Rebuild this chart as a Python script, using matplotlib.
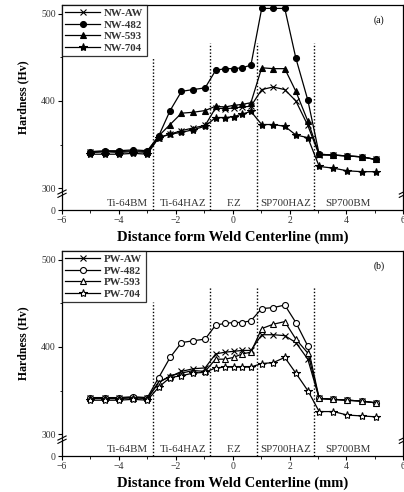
import numpy as np
import matplotlib
matplotlib.use("Agg")
import matplotlib.pyplot as plt

plt.rcParams['font.family'] = ['Liberation Serif', 'DejaVu Serif']

# measurement positions (mm)
x_pos = [-5.0, -4.5, -4.0, -3.5, -3.0,
         -2.6, -2.2, -1.8, -1.4, -0.97,
         -0.6, -0.27, 0.03, 0.33, 0.64,
         1.02, 1.42, 1.83, 2.22, 2.64,
         3.04, 3.54, 4.03, 4.53, 5.02]

# as-welded / aged, plate NW
nw_aw = [341, 342, 341, 342, 341,
         358, 362, 366, 369, 372,
         392, 391, 392, 393, 394,
         413, 416, 413, 400, 372,
         338, 338, 337, 336, 333]
nw_482 = [342, 343, 343, 344, 343,
          360, 389, 411, 413, 415,
          435, 437, 437, 438, 441,
          506, 506, 506, 449, 401,
          339, 338, 337, 336, 333]
nw_593 = [341, 342, 342, 343, 342,
          360, 373, 386, 387, 389,
          394, 393, 395, 396, 398,
          438, 437, 437, 411, 377,
          339, 338, 337, 336, 333]
nw_704 = [339, 339, 339, 340, 339,
          358, 362, 364, 367, 371,
          381, 381, 382, 385, 388,
          373, 373, 371, 361, 358,
          325, 323, 320, 319, 319]

# plate PW
pw_aw = [341, 341, 341, 342, 341,
         360, 366, 372, 375, 376,
         392, 394, 395, 396, 396,
         414, 414, 413, 405, 386,
         341, 340, 339, 338, 336]
pw_482 = [342, 342, 342, 343, 342,
          365, 388, 405, 407, 409,
          425, 427, 428, 428, 430,
          444, 445, 448, 428, 401,
          341, 340, 339, 338, 336]
pw_593 = [341, 341, 341, 342, 341,
          359, 367, 370, 373, 372,
          386, 386, 388, 392, 394,
          421, 426, 429, 409, 393,
          341, 340, 339, 338, 336]
pw_704 = [339, 339, 339, 340, 339,
          354, 365, 367, 370, 371,
          376, 377, 377, 377, 377,
          381, 382, 388, 370, 350,
          326, 326, 322, 321, 320]

zone_lines = [-2.8, -0.8, 0.87, 2.87]
zone_names = ['Ti-64BM', 'Ti-64HAZ', 'F.Z', 'SP700HAZ', 'SP700BM']
zone_x = [-3.7, -1.75, 0.05, 1.85, 4.05]

fig = plt.figure(figsize=(4.04, 4.92), dpi=100)
ax1 = fig.add_axes([0.1535, 0.573, 0.845, 0.417])
ax2 = fig.add_axes([0.1535, 0.073, 0.845, 0.417])


def panel(ax, series, labels, markers, fills, tag, xlab, line_top):
    for y, lab, m, f in zip(series, labels, markers, fills):
        ms = 6 if m == '*' else 4.3
        ax.plot(x_pos, y, color='black', lw=0.9, marker=m, ms=ms,
                mfc=('black' if f else 'white'), mec='black', mew=0.8, label=lab)
    for i, xl in enumerate(zone_lines):
        top = line_top[0] if i == 0 else line_top[1]
        ax.plot([xl, xl], [275, top], color='black', lw=1.0, ls=(0, (1, 1.4)))
    for name, xt in zip(zone_names, zone_x):
        ax.text(xt, 283, name, ha='center', va='center', fontsize=7.8, color='#333333')
    ax.set_xlim(-6, 6)
    ax.set_ylim(275, 510)
    ax.set_xticks([-6, -4, -2, 0, 2, 4, 6])
    ax.set_xticks([-5, -3, -1, 1, 3, 5], minor=True)
    ax.set_yticks([275, 300, 400, 500])
    ax.set_yticklabels(['0', '300', '400', '500'])
    ax.set_yticks([350, 450], minor=True)
    ax.tick_params(labelsize=7, direction='out', length=3, width=0.8, pad=1.5,
                   labelcolor='#333333')
    ax.tick_params(which='minor', length=1.8, width=0.6)
    for s in ax.spines.values():
        s.set_linewidth(0.9)
    # axis break marks near 300
    for xb in [0.0, 1.0]:
        ax.plot([xb - 0.012, xb + 0.012], [0.078, 0.098], transform=ax.transAxes,
                color='black', lw=0.8, clip_on=False)
        ax.plot([xb - 0.012, xb + 0.012], [0.062, 0.082], transform=ax.transAxes,
                color='black', lw=0.8, clip_on=False)
    ax.set_xlabel(xlab, fontsize=10.5, fontweight='bold', labelpad=4)
    ax.set_ylabel('Hardness (Hv)', fontsize=8.5, fontweight='bold')
    ax.yaxis.set_label_coords(-0.095, 0.55)
    ax.text(5.15, 492, tag, fontsize=7, ha='center', va='center')
    leg = ax.legend(loc='upper left', frameon=True, fancybox=False,
                    edgecolor='black', borderaxespad=0, handlelength=3.2,
                    handletextpad=0.4, labelspacing=0.2, borderpad=0.3,
                    prop={'weight': 'bold', 'size': 7.8})
    leg.get_frame().set_linewidth(0.9)
    for t in leg.get_texts():
        t.set_color('#333333')


panel(ax1, [nw_aw, nw_482, nw_593, nw_704],
      ['NW-AW', 'NW-482', 'NW-593', 'NW-704'],
      ['x', 'o', '^', '*'], [True, True, True, True], '(a)',
      'Distance form Weld Centerline (mm)', (449, 466))
panel(ax2, [pw_aw, pw_482, pw_593, pw_704],
      ['PW-AW', 'PW-482', 'PW-593', 'PW-704'],
      ['x', 'o', '^', '*'], [True, False, False, False], '(b)',
      'Distance from Weld Centerline (mm)', (452, 469))

fig.savefig('out.png', dpi=100)
